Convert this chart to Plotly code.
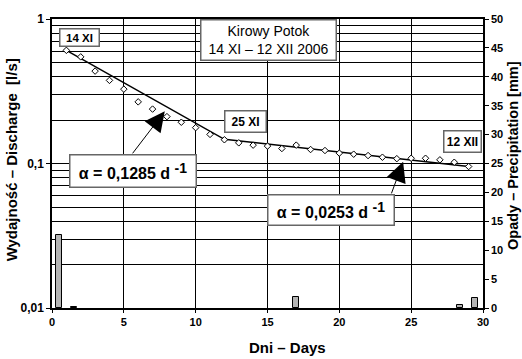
import plotly.graph_objects as go

# ---- data ----
days = list(range(1, 30))
discharge = [0.607, 0.547, 0.436, 0.376, 0.327, 0.267, 0.238, 0.211, 0.193, 0.177,
             0.159, 0.146, 0.139, 0.134, 0.132, 0.127, 0.134, 0.125, 0.123, 0.118,
             0.116, 0.1135, 0.1105, 0.108, 0.1087, 0.1087, 0.106, 0.102, 0.0953]
fit_days = [1, 12, 29]
fit_discharge = [0.607, 0.147, 0.0955]
precip_days = [0.5, 1.55, 17.0, 28.4, 29.45]
precip_mm = [12.6, 0.2, 1.9, 0.5, 1.8]
y_major = [0.01, 0.1, 1]
y_major_text = ["0,01", "0,1", "1"]
y_minor = [0.02, 0.03, 0.04, 0.05, 0.06, 0.07, 0.08, 0.09,
           0.2, 0.3, 0.4, 0.5, 0.6, 0.7, 0.8, 0.9]

FONT = "Liberation Sans, Arial, sans-serif"

fig = go.Figure()
fig.add_trace(go.Bar(x=precip_days, y=precip_mm, yaxis="y2", width=0.42,
                     marker=dict(color="#b4b4b4", line=dict(color="black", width=1)),
                     showlegend=False))
fig.add_trace(go.Scatter(x=fit_days, y=fit_discharge, mode="lines",
                         line=dict(color="black", width=1.5), showlegend=False))
fig.add_trace(go.Scatter(x=days, y=discharge, mode="markers",
                         marker=dict(symbol="diamond", size=5, color="white",
                                     line=dict(color="black", width=1)),
                         showlegend=False))

box = dict(bgcolor="white", bordercolor="#666", borderwidth=1.5, borderpad=1,
           showarrow=False, xref="paper", yref="paper",
           xanchor="center", yanchor="middle")
ann = []
ann.append(dict(text="<b>14 XI</b>", x=0.063, y=0.937, width=36, height=14,
                font=dict(family=FONT, size=11.5, color="black"), **box))
ann.append(dict(text="<b>25 XI</b>", x=0.450, y=0.646, width=38, height=18,
                font=dict(family=FONT, size=12, color="black"), **box))
ann.append(dict(text="<b>12 XII</b>", x=0.952, y=0.577, width=34, height=18,
                font=dict(family=FONT, size=12, color="black"), **box))
ann.append(dict(text="Kirowy Potok<br>14 XI – 12 XII 2006", x=0.503, y=0.927,
                width=132, height=37,
                font=dict(family=FONT, size=14, color="black"), **box))
sup = "<sup><span style='font-size:14px'>-1</span></sup>"
ann.append(dict(text="<b>α = 0,1285 d </b>" + sup, x=0.188, y=0.475,
                width=123, height=29,
                font=dict(family=FONT, size=16, color="black", weight="bold"), **box))
ann.append(dict(text="<b>α = 0,0253 d </b>" + sup, x=0.648, y=0.340,
                width=123, height=27,
                font=dict(family=FONT, size=16, color="black", weight="bold"), **box))

# arrows (tip on the fitted line, tail at the box)
for tip, tail in [((7.85, -0.639), (5.53, -0.940)), ((24.44, -0.988), (23.59, -1.217))]:
    ann.append(dict(text="", x=tip[0], y=tip[1], xref="x", yref="y",
                    ax=tail[0], ay=tail[1], axref="x", ayref="y",
                    showarrow=True, arrowhead=2, arrowsize=4, arrowwidth=1,
                    arrowcolor="black", standoff=0))

# axis titles
title_common = dict(xref="paper", yref="paper", showarrow=False,
                    xanchor="center", yanchor="middle")
ann.append(dict(text="<b>Wydajność – Discharge  [l/s]</b>", x=-0.093, y=0.514,
                textangle=-90, font=dict(family=FONT, size=15, color="black"),
                **title_common))
ann.append(dict(text="<b>Opady – Precipitation [mm]</b>", x=1.068, y=0.527,
                textangle=-90, font=dict(family=FONT, size=14.5, color="black"),
                **title_common))
ann.append(dict(text="<b>Dni – Days</b>", x=0.546, y=-0.135,
                font=dict(family=FONT, size=15, color="black"), **title_common))

tickfont = dict(family=FONT, size=11, color="black", weight="bold")
fig.update_layout(
    width=522, height=359,
    margin=dict(l=52, r=39, t=15, b=51, pad=0),
    paper_bgcolor="white", plot_bgcolor="white",
    xaxis=dict(range=[0, 30], tick0=0, dtick=5, showgrid=True, gridcolor="black",
               gridwidth=1, showline=True, linecolor="black", linewidth=1.5,
               mirror=True, ticks="outside", ticklen=3, tickcolor="black",
               tickfont=tickfont, zeroline=False),
    yaxis=dict(type="log", range=[-2, 0], tickmode="array", tickvals=y_major,
               ticktext=y_major_text, showgrid=True, gridcolor="black", gridwidth=1,
               showline=True, linecolor="black", linewidth=1.5, mirror=True,
               ticks="outside", ticklen=4, tickcolor="black",
               tickfont=dict(family=FONT, size=12, color="black", weight="bold"),
               minor=dict(tickmode="array", tickvals=y_minor, showgrid=True,
                          gridcolor="black", gridwidth=1, ticks="")),
    yaxis2=dict(overlaying="y", side="right", range=[0, 50], tick0=0, dtick=5,
                showgrid=False, zeroline=False, showline=True, linecolor="black",
                linewidth=1.5, ticks="outside", ticklen=4, tickcolor="black",
                tickfont=tickfont),
    annotations=ann,
    bargap=0,
)
fig.write_html("out.html")
